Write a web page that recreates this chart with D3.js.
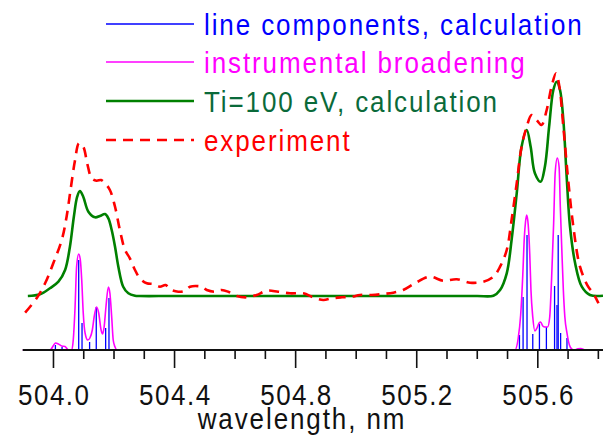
<!DOCTYPE html>
<html>
<head>
<meta charset="utf-8">
<script src="https://cdn.jsdelivr.net/npm/d3@7"></script>
<style>
  html, body { margin: 0; padding: 0; background: #fff; }
  svg { display: block; font-family: "Liberation Sans", Arial, sans-serif; }
</style>
</head>
<body>
<svg id="chart" width="603" height="438"></svg>
<script>
// Wavelength (nm) and intensity (arb. units) of the computed line components
const lineWavelengths = [504.008, 504.030, 504.085, 504.096, 504.121, 504.143, 504.174, 504.185,
  505.541, 505.553, 505.566, 505.585, 505.607, 505.630, 505.657, 505.665, 505.669, 505.677, 505.698];
const lineIntensities = [0.05, 0.03, 0.90, 0.27, 0.08, 0.43, 0.22, 0.52,
  0.15, 0.53, 1.15, 0.16, 0.26, 0.23, 0.64, 0.45, 1.15, 0.17, 0.12];

// Components convolved with the instrument function
const instrWavelengths = [503.900, 503.990, 504.009, 504.018, 504.029, 504.040, 504.051, 504.062, 504.067,
  504.073, 504.078, 504.085, 504.090, 504.095, 504.100, 504.106, 504.115, 504.122, 504.130, 504.136,
  504.144, 504.151, 504.159, 504.164, 504.169, 504.175, 504.183, 504.188, 504.194, 504.199, 504.205,
  504.211, 505.526, 505.537, 505.545, 505.552, 505.557, 505.561, 505.565, 505.570, 505.575, 505.579,
  505.585, 505.592, 505.599, 505.606, 505.611, 505.618, 505.625, 505.634, 505.641, 505.647, 505.654,
  505.659, 505.666, 505.672, 505.676, 505.681, 505.686, 505.691, 505.698, 505.706, 505.714, 505.721,
  505.734, 505.744, 505.758, 505.817];
const instrIntensities = [0, 0, 0.07, 0.06, 0.04, 0.035, 0, 0, 0.10,
  0.43, 0.83, 0.96, 0.91, 0.70, 0.37, 0.17, 0.10, 0.12, 0.20, 0.33,
  0.43, 0.37, 0.20, 0.16, 0.23, 0.43, 0.63, 0.57, 0.33, 0.10, 0.03,
  0, 0, 0.12, 0.35, 0.75, 1.12, 1.28, 1.35, 1.25, 0.96, 0.60,
  0.33, 0.19, 0.22, 0.27, 0.28, 0.24, 0.23, 0.23, 0.33, 0.70, 1.27,
  1.77, 1.92, 1.83, 1.43, 1.00, 0.60, 0.33, 0.17, 0.05, 0.01, 0,
  0.012, 0.015, 0, 0];

// Doppler-broadened profile for Ti = 100 eV
const calcWavelengths = [503.917, 503.957, 503.990, 504.018, 504.040, 504.056, 504.069, 504.080, 504.089,
  504.100, 504.117, 504.139, 504.155, 504.172, 504.183, 504.194, 504.205, 504.216, 504.232, 504.249,
  504.271, 504.287, 504.400, 504.800, 505.200, 505.400, 505.455, 505.477, 505.499, 505.515, 505.532,
  505.548, 505.565, 505.578, 505.592, 505.611, 505.625, 505.639, 505.653, 505.664, 505.675, 505.686,
  505.697, 505.708, 505.725, 505.747, 505.774, 505.817];
const calcIntensities = [0.54, 0.557, 0.617, 0.683, 0.80, 1.033, 1.333, 1.533, 1.59,
  1.533, 1.383, 1.327, 1.34, 1.36, 1.317, 1.20, 1.033, 0.833, 0.633, 0.567,
  0.543, 0.54, 0.54, 0.54, 0.54, 0.54, 0.543, 0.60, 0.767, 1.10, 1.567,
  2.033, 2.20, 2.033, 1.767, 1.683, 1.833, 2.233, 2.60, 2.683, 2.60, 2.30,
  1.733, 1.233, 0.867, 0.633, 0.55, 0.543];

// Measured spectrum
const expWavelengths = [503.908, 503.946, 503.974, 504.001, 504.029, 504.045, 504.058, 504.073, 504.086,
  504.100, 504.113, 504.128, 504.144, 504.159, 504.172, 504.188, 504.205, 504.221, 504.238, 504.254,
  504.271, 504.287, 504.310, 504.331, 504.353, 504.372, 504.387, 504.414, 504.436, 504.453, 504.491,
  504.508, 504.535, 504.557, 504.579, 504.607, 504.640, 504.673, 504.706, 504.744, 504.783, 504.827,
  504.860, 504.893, 504.921, 504.954, 504.987, 505.014, 505.053, 505.091, 505.124, 505.157, 505.196,
  505.245, 505.289, 505.334, 505.378, 505.422, 505.455, 505.477, 505.499, 505.515, 505.532, 505.548,
  505.565, 505.581, 505.598, 505.614, 505.631, 505.647, 505.662, 505.673, 505.686, 505.702, 505.719,
  505.741, 505.768, 505.785, 505.802];
const expIntensities = [0.373, 0.517, 0.667, 0.867, 1.10, 1.333, 1.60, 1.90, 2.067,
  2.033, 1.867, 1.717, 1.693, 1.70, 1.667, 1.60, 1.433, 1.20, 1.00, 0.917,
  0.80, 0.717, 0.667, 0.66, 0.633, 0.65, 0.607, 0.583, 0.593, 0.633, 0.633,
  0.60, 0.583, 0.60, 0.583, 0.54, 0.527, 0.55, 0.593, 0.583, 0.567, 0.567,
  0.527, 0.50, 0.517, 0.527, 0.533, 0.55, 0.55, 0.56, 0.573, 0.60, 0.667,
  0.733, 0.693, 0.707, 0.673, 0.683, 0.733, 0.833, 1.00, 1.30, 1.667, 2.033,
  2.233, 2.35, 2.30, 2.25, 2.40, 2.633, 2.767, 2.633, 2.233, 1.70, 1.233,
  0.833, 0.633, 0.567, 0.467];

// Axis ticks
const tickValues = d3.range(0, 19).map(i => +(504.0 + i * 0.1).toFixed(1));
const majorTicks = [504.0, 504.4, 504.8, 505.2, 505.6];

const legendLabels = ["line components, calculation", "instrumental broadening",
  "Ti=100 eV, calculation", "experiment"];

const svg = d3.select("#chart");

const x = d3.scaleLinear().domain([503.9, 505.817]).range([22.7, 603]);
const y = d3.scaleLinear().domain([0, 3]).range([350, 50]);

const zip = (a, b) => a.map((v, i) => [v, b[i]]);
const sharpLine = d3.line().x(d => x(d[0])).y(d => y(d[1])).curve(d3.curveMonotoneX);
const smoothLine = d3.line().x(d => x(d[0])).y(d => y(d[1])).curve(d3.curveCatmullRom.alpha(0.5));

// tall, slightly spaced lettering used throughout
const stretch = "scale(1,1.12)";
const fontSize = "26px";

// line components as vertical sticks
svg.append("g")
  .selectAll("line")
  .data(zip(lineWavelengths, lineIntensities))
  .join("line")
  .attr("x1", d => x(d[0])).attr("x2", d => x(d[0]))
  .attr("y1", y(0)).attr("y2", d => y(d[1]))
  .attr("stroke", "#0000ff").attr("stroke-width", 1.3);

// instrumental broadening
svg.append("path")
  .datum(zip(instrWavelengths, instrIntensities))
  .attr("d", sharpLine).attr("fill", "none")
  .attr("stroke", "#ff00ff").attr("stroke-width", 1.6);

// Ti = 100 eV profile
svg.append("path")
  .datum(zip(calcWavelengths, calcIntensities))
  .attr("d", smoothLine).attr("fill", "none")
  .attr("stroke", "#008000").attr("stroke-width", 2.6);

// experiment
svg.append("path")
  .datum(zip(expWavelengths, expIntensities))
  .attr("d", smoothLine).attr("fill", "none")
  .attr("stroke", "#ff0000").attr("stroke-width", 2.6)
  .attr("stroke-dasharray", "10,7");

// x axis
const isMajor = d => majorTicks.some(m => Math.abs(m - d) < 1e-6);
const axis = d3.axisBottom(x)
  .tickValues(tickValues)
  .tickSize(9)
  .tickPadding(0)
  .tickFormat(d => isMajor(d) ? d3.format(".1f")(d) : "");

const gx = svg.append("g").attr("transform", `translate(0,${y(0)})`).call(axis);
gx.select(".domain").remove();
gx.append("line")
  .attr("x1", 22.7).attr("x2", 603).attr("y1", 0).attr("y2", 0)
  .attr("stroke", "#111").attr("stroke-width", 2);
gx.selectAll(".tick line").attr("stroke", "#111").attr("stroke-width", 1.6)
  .attr("y2", d => isMajor(d) ? 18 : 9);
gx.selectAll(".tick text")
  .attr("y", 0).attr("dy", null)
  .attr("transform", `translate(0.8,55) ${stretch}`)
  .attr("fill", "#111")
  .style("font-size", fontSize)
  .style("letter-spacing", "1.5px")
  .style("font-family", "'Liberation Sans', Arial, sans-serif");

svg.append("text")
  .attr("transform", `translate(302,429) ${stretch}`)
  .attr("text-anchor", "middle")
  .attr("fill", "#111")
  .style("font-size", fontSize)
  .style("letter-spacing", "1.9px")
  .text("wavelength, nm");

// legend
const legendColors = ["#0000ff", "#ff00ff", "#008000", "#ff0000"];
const legendTextColors = ["#0000ff", "#ff00ff", "#0a6a3a", "#ff0000"];
const legendY = [24, 62, 101, 140];
const lg = svg.append("g");
legendLabels.forEach((label, i) => {
  lg.append("line")
    .attr("x1", 106).attr("x2", 194)
    .attr("y1", legendY[i]).attr("y2", legendY[i])
    .attr("stroke", legendColors[i])
    .attr("stroke-width", i === 2 || i === 3 ? 2.6 : 1.6)
    .attr("stroke-dasharray", i === 3 ? "10,7" : null);
  lg.append("text")
    .attr("transform", `translate(204,${legendY[i] + 11}) ${stretch}`)
    .attr("fill", legendTextColors[i])
    .style("font-size", fontSize)
    .style("letter-spacing", "1.9px")
    .text(label);
});
</script>
</body>
</html>
